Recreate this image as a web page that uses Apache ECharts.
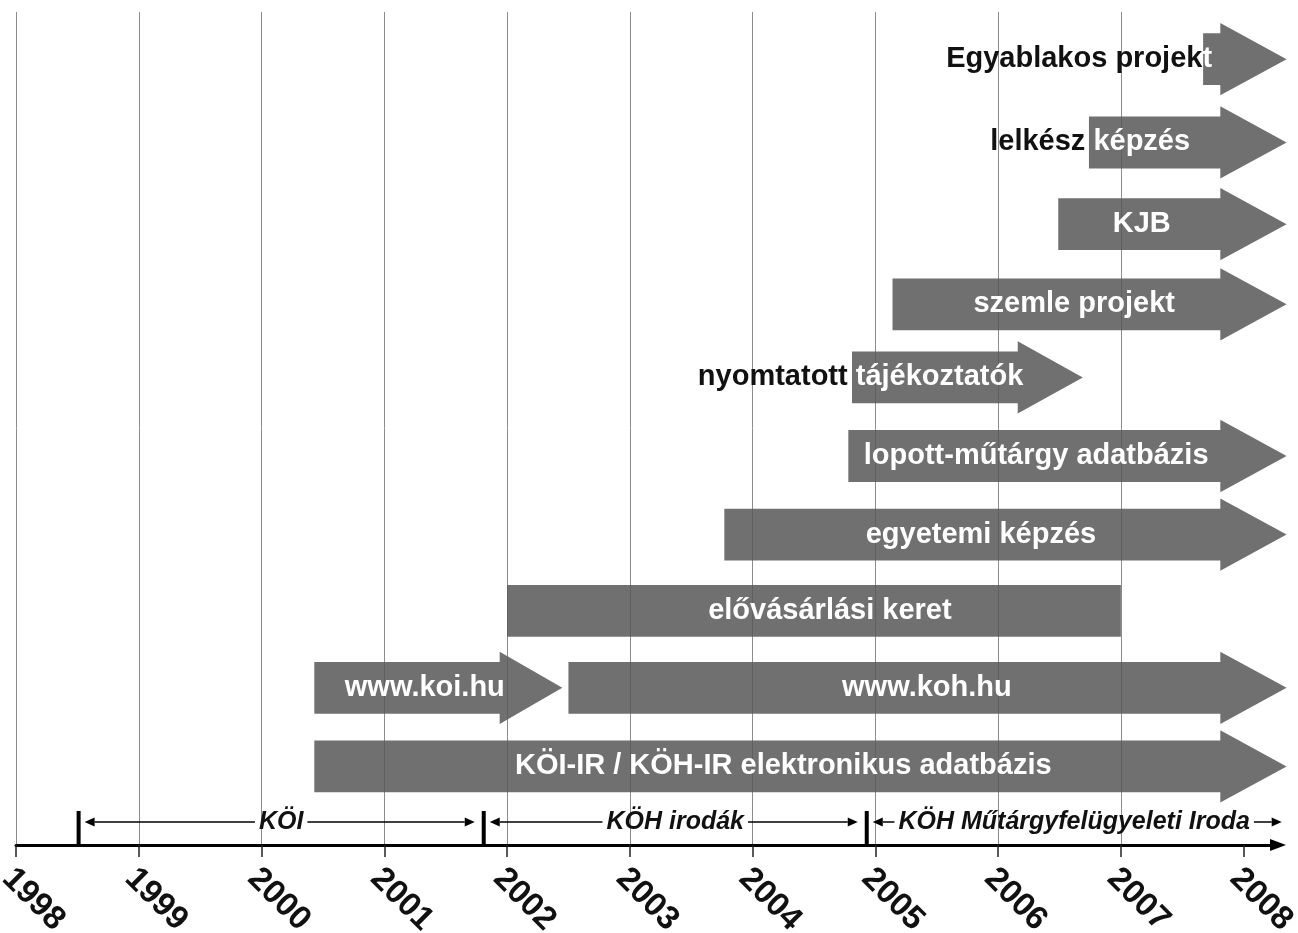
<!DOCTYPE html>
<html>
<head>
<meta charset="utf-8">
<script src="https://cdn.jsdelivr.net/npm/echarts@6/dist/echarts.min.js"></script>
<style>
html, body { margin: 0; padding: 0; background: #fff; }
#chart { width: 1298px; height: 933px; }
</style>
</head>
<body>
<div id="chart"></div>
<script>
/* data */
var years = [1998, 1999, 2000, 2001, 2002, 2003, 2004, 2005, 2006, 2007, 2008];

// one entry per arrow, top to bottom
var lanes     = [0, 1.06, 2.1, 3.12, 4.05, 5.05, 6.05, 7.02, 8, 8, 9];
var starts    = [2007.67, 2006.74, 2006.49, 2005.14, 2004.81, 2004.78, 2003.77, 2002.0, 2000.43, 2002.5, 2000.43];
var headBases = [2007.81, 2007.81, 2007.81, 2007.81, 2006.16, 2007.81, 2007.81, 2007.0, 2001.94, 2007.81, 2007.81];
var tips      = [2008.35, 2008.35, 2008.35, 2008.35, 2006.69, 2008.35, 2008.35, 2007.0, 2002.45, 2008.35, 2008.35];
var labelAt   = [2006.66, 2006.75, 2007.17, 2006.62, 2004.88, 2006.31, 2005.86, 2004.63, 2001.33, 2005.42, 2004.25];
var textOutside = ['Egyablakos projek', 'lelkész ', '', '', 'nyomtatott ', '', '', '', '', '', ''];
var textInside  = ['t', 'képzés', 'KJB', 'szemle projekt', 'tájékoztatók', 'lopott-műtárgy adatbázis',
                   'egyetemi képzés', 'elővásárlási keret', 'www.koi.hu', 'www.koh.hu',
                   'KÖI-IR / KÖH-IR elektronikus adatbázis'];

// periods under the arrows
var periodStart = [1998.51, 2001.81, 2004.93];
var periodEnd   = [2001.81, 2004.93, 2008.31];
var periodNames = ['KÖI', 'KÖH irodák', 'KÖH Műtárgyfelügyeleti Iroda'];

var FONT = '"Liberation Sans", Arial, sans-serif';

var arrowData = [];
for (var i = 0; i < lanes.length; i++) {
    arrowData.push([starts[i], lanes[i], headBases[i], tips[i], labelAt[i]]);
}
var periodData = [];
for (var j = 0; j < periodNames.length; j++) {
    periodData.push([periodStart[j], periodEnd[j]]);
}

var measureCtx = document.createElement('canvas').getContext('2d');
function textWidth(txt, font) {
    measureCtx.font = font;
    return measureCtx.measureText(txt).width;
}

function renderArrow(params, api) {
    var lane = api.value(1);
    var p0 = api.coord([api.value(0), lane]);
    var pb = api.coord([api.value(2), lane]);
    var pt = api.coord([api.value(3), lane]);
    var pl = api.coord([api.value(4), lane]);
    var unit = api.size([0, 1])[1];
    var h = unit * 0.33, H = unit * 0.46;
    var y = p0[1];
    var pts;
    if (pt[0] > pb[0] + 1) {
        pts = [[p0[0], y - h], [pb[0], y - h], [pb[0], y - H], [pt[0], y],
               [pb[0], y + H], [pb[0], y + h], [p0[0], y + h]];
    } else {
        pts = [[p0[0], y - h], [pb[0], y - h], [pb[0], y + h], [p0[0], y + h]];
    }
    var out = textOutside[params.dataIndex], inn = textInside[params.dataIndex];
    var txt = (out ? '{o|' + out + '}' : '') + '{i|' + inn + '}';
    var part = { fontSize: 29, fontWeight: 'bold', fontFamily: FONT };
    return {
        type: 'group',
        children: [{
            type: 'polygon',
            shape: { points: pts },
            style: { fill: '#595959', opacity: 0.86 }
        }, {
            type: 'text',
            style: {
                text: txt,
                x: pl[0], y: y,
                align: 'center', verticalAlign: 'middle',
                fontSize: 29, fontWeight: 'bold', fontFamily: FONT,
                rich: {
                    o: Object.assign({ fill: '#111' }, part),
                    i: Object.assign({ fill: '#fff' }, part)
                }
            }
        }]
    };
}

function renderPeriod(params, api) {
    var idx = params.dataIndex;
    var s = api.coord([api.value(0), 10]);
    var e = api.coord([api.value(1), 10]);
    var axisY = s[1];
    var ly = axisY - 23;
    var last = idx === periodNames.length - 1;
    var font = 'italic bold 25px ' + FONT;
    var w = textWidth(periodNames[idx], font);
    var mid = (s[0] + e[0]) / 2;
    var gap = 4;
    var x1 = s[0] + 6, x2 = last ? e[0] : e[0] - 9;
    var ah = 10, aw = 4.5;
    var children = [{
        type: 'rect',
        shape: { x: s[0] - 2, y: axisY - 34, width: 4, height: 34 },
        style: { fill: '#000' }
    }, {
        type: 'line',
        shape: { x1: x1 + ah, y1: ly, x2: mid - w / 2 - gap, y2: ly },
        style: { stroke: '#000', lineWidth: 1.5 }
    }, {
        type: 'polygon',
        shape: { points: [[x1, ly], [x1 + ah, ly - aw], [x1 + ah, ly + aw]] },
        style: { fill: '#000' }
    }, {
        type: 'line',
        shape: { x1: mid + w / 2 + gap, y1: ly, x2: x2 - ah, y2: ly },
        style: { stroke: '#000', lineWidth: 1.5 }
    }, {
        type: 'polygon',
        shape: { points: [[x2, ly], [x2 - ah, ly - aw], [x2 - ah, ly + aw]] },
        style: { fill: '#000' }
    }, {
        type: 'text',
        style: {
            text: periodNames[idx], x: mid, y: ly,
            align: 'center', verticalAlign: 'middle',
            font: font, fill: '#111'
        }
    }];
    return { type: 'group', children: children };
}

var option = {
    backgroundColor: '#fff',
    animation: false,
    grid: { left: 16, right: 20, top: 12, bottom: 88, outerBoundsMode: 'none', containLabel: false },
    xAxis: {
        type: 'value',
        min: 1998,
        max: 2008.28,
        interval: 1,
        axisLine: {
            show: true,
            onZero: false,
            symbol: ['none', 'triangle'],
            symbolSize: [12, 16],
            lineStyle: { color: '#000', width: 3 }
        },
        axisTick: {
            show: true,
            length: 12,
            customValues: years,
            lineStyle: { color: '#222', width: 1.5 }
        },
        axisLabel: {
            customValues: years,
            rotate: -45,
            margin: 20,
            verticalAlign: 'top',
            lineHeight: 24,
            color: '#111',
            fontSize: 33,
            fontWeight: 'bold',
            fontFamily: FONT,
            formatter: function (v) { return String(Math.round(v)); }
        },
        splitLine: {
            show: true,
            showMaxLine: false,
            lineStyle: { color: '#8c8c8c', width: 1 }
        }
    },
    yAxis: {
        type: 'value',
        inverse: true,
        min: -0.6,
        max: 10,
        show: false
    },
    series: [{
        name: 'projects',
        type: 'custom',
        renderItem: renderArrow,
        encode: { x: [0, 2, 3, 4], y: 1 },
        data: arrowData,
        z: 3
    }, {
        name: 'periods',
        type: 'custom',
        renderItem: renderPeriod,
        encode: { x: [0, 1] },
        data: periodData,
        z: 4
    }]
};

var chart = echarts.init(document.getElementById('chart'));
chart.setOption(option);
</script>
</body>
</html>
